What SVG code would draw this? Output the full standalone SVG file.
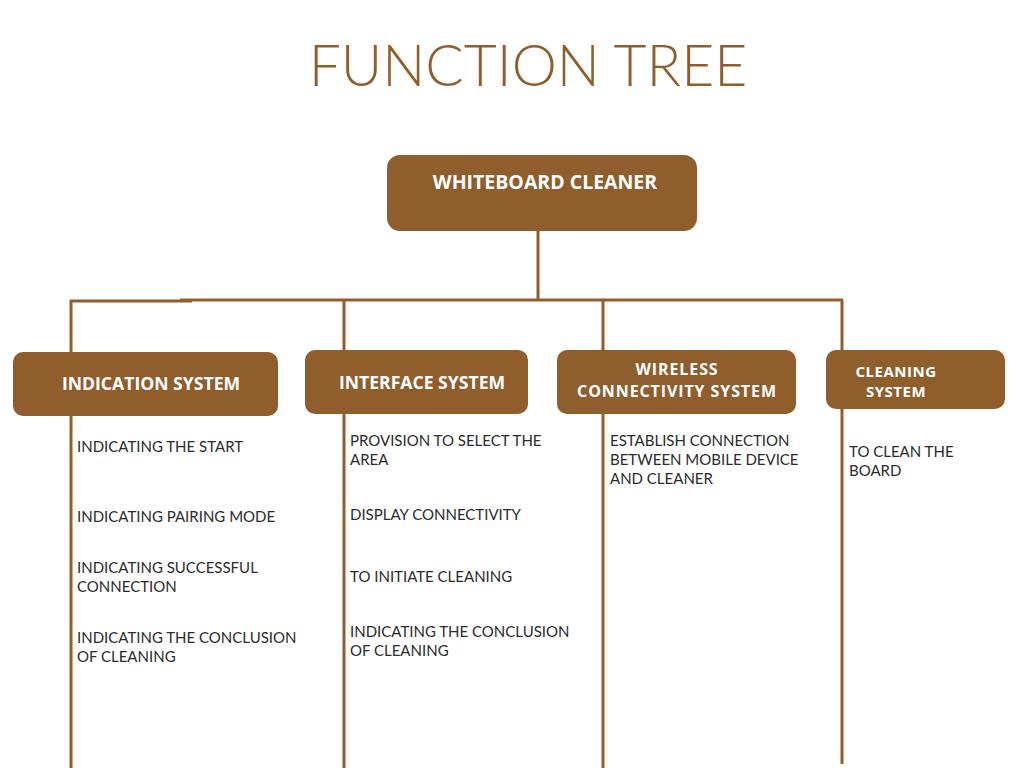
<svg xmlns="http://www.w3.org/2000/svg" width="1024" height="768" viewBox="0 0 1024 768">
<style>
.box{fill:#8f5e2c}
.lbl{font-family:"Open Sans","Liberation Sans",sans-serif;font-weight:700;font-size:17.6px;fill:#ffffff;text-anchor:middle}
.item{font-family:"Lato","Liberation Sans",sans-serif;font-weight:400;font-size:15px;fill:#2b2b2b}
.ln{stroke:#8f5e2c;stroke-width:3;fill:none}
.title{font-family:"Lato","Liberation Sans",sans-serif;font-weight:300;font-size:57px;fill:#8f5e2c;text-anchor:middle}
</style>
<rect width="1024" height="768" fill="#ffffff"/>
<text class="title" x="528" y="86">FUNCTION TREE</text>
<g id="connectors">
<line class="ln" x1="538" y1="231" x2="538" y2="300"/>
<line class="ln" x1="70" y1="301" x2="192" y2="301"/>
<line class="ln" x1="180" y1="300" x2="843" y2="300"/>
<line class="ln" x1="71" y1="300" x2="71" y2="768"/>
<line class="ln" x1="344" y1="300" x2="344" y2="768"/>
<line class="ln" x1="603" y1="300" x2="603" y2="768"/>
<line class="ln" x1="842" y1="300" x2="842" y2="764"/>
</g>
<g id="root">
<rect class="box" x="387" y="155" width="310" height="76" rx="13"/>
<text class="lbl" x="545" y="189" style="font-size:19.5px">WHITEBOARD CLEANER</text>
</g>
<g id="indication">
<rect class="box" x="13" y="352" width="265" height="64" rx="10"/>
<text class="lbl" x="151" y="390">INDICATION SYSTEM</text>
<text class="item" x="77" y="452">INDICATING THE START</text>
<text class="item" x="77" y="522">INDICATING PAIRING MODE</text>
<text class="item" x="77" y="573">INDICATING SUCCESSFUL</text>
<text class="item" x="77" y="592">CONNECTION</text>
<text class="item" x="77" y="643">INDICATING THE CONCLUSION</text>
<text class="item" x="77" y="662">OF CLEANING</text>
</g>
<g id="interface">
<rect class="box" x="305" y="350" width="223" height="64" rx="10"/>
<text class="lbl" x="422" y="389">INTERFACE SYSTEM</text>
<text class="item" x="350" y="446">PROVISION TO SELECT THE</text>
<text class="item" x="350" y="465">AREA</text>
<text class="item" x="350" y="520">DISPLAY CONNECTIVITY</text>
<text class="item" x="350" y="582">TO INITIATE CLEANING</text>
<text class="item" x="350" y="637">INDICATING THE CONCLUSION</text>
<text class="item" x="350" y="656">OF CLEANING</text>
</g>
<g id="wireless">
<rect class="box" x="557" y="350" width="239" height="64" rx="10"/>
<text class="lbl" x="677" y="375" style="font-size:16px;letter-spacing:0.9px">WIRELESS</text>
<text class="lbl" x="677" y="397" style="font-size:16px;letter-spacing:0.9px">CONNECTIVITY SYSTEM</text>
<text class="item" x="610" y="446">ESTABLISH CONNECTION</text>
<text class="item" x="610" y="465">BETWEEN MOBILE DEVICE</text>
<text class="item" x="610" y="484">AND CLEANER</text>
</g>
<g id="cleaning">
<rect class="box" x="826" y="350" width="179" height="59" rx="10"/>
<text class="lbl" x="896" y="376.5" style="font-size:15px;letter-spacing:0.5px">CLEANING</text>
<text class="lbl" x="896" y="397" style="font-size:15px;letter-spacing:0.5px">SYSTEM</text>
<text class="item" x="849" y="457">TO CLEAN THE</text>
<text class="item" x="849" y="476">BOARD</text>
</g>
</svg>
